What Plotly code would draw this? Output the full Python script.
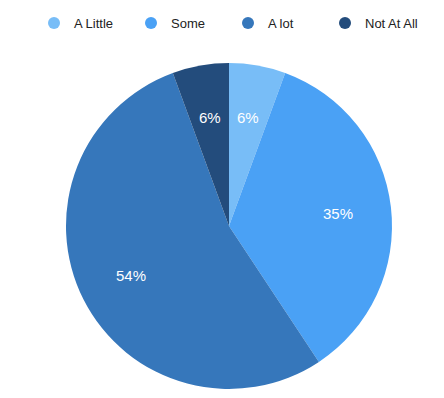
import math
import plotly.graph_objects as go

labels = ["A Little", "Some", "A lot", "Not At All"]
values = [5.6, 35.1, 53.7, 5.6]
colors = ["#78bdf7", "#4aa1f5", "#3677bb", "#234c7c"]

W, H = 444, 398
cx, cy, R = 221, 218, 163
dom_x = [(cx - R) / W, (cx + R) / W]
dom_y = [1 - (cy + R) / H, 1 - (cy - R) / H]

fig = go.Figure()
fig.add_trace(go.Pie(
    labels=labels, values=values, sort=False, direction="clockwise", rotation=0,
    marker=dict(colors=colors, line=dict(width=0)),
    textinfo="none", domain=dict(x=dom_x, y=dom_y),
    showlegend=False, hoverinfo="label+percent",
))
for lab, col in zip(labels, colors):
    fig.add_trace(go.Scatter(x=[None], y=[None], mode="markers", name=lab,
                             marker=dict(symbol="circle", size=12, color=col),
                             showlegend=True))

# percentage labels at each slice's mid-angle
total = sum(values)
cum = 0
annotations = []
for v in values:
    mid = (cum + v / 2) / total * 2 * math.pi
    cum += v
    r = 0.675 * R
    px = cx + r * math.sin(mid)
    py = cy - r * math.cos(mid)
    annotations.append(dict(
        x=px / W, y=1 - py / H, xref="paper", yref="paper",
        text=f"{round(v / total * 100)}%", showarrow=False,
        font=dict(color="white", size=15, family="Liberation Sans, Arial"),
        xanchor="center", yanchor="middle"))

fig.update_layout(
    width=W, height=H,
    margin=dict(l=0, r=0, t=0, b=0),
    paper_bgcolor="white", plot_bgcolor="white",
    font=dict(family="Liberation Sans, Arial", color="#222"),
    xaxis=dict(visible=False), yaxis=dict(visible=False),
    annotations=annotations,
    legend=dict(orientation="h", x=26 / W, xanchor="left",
                y=1 - 15 / H, yanchor="middle",
                font=dict(size=13, color="#222"), entrywidth=52,
                itemclick=False, bgcolor="rgba(0,0,0,0)"),
)
fig.write_html("out.html")
